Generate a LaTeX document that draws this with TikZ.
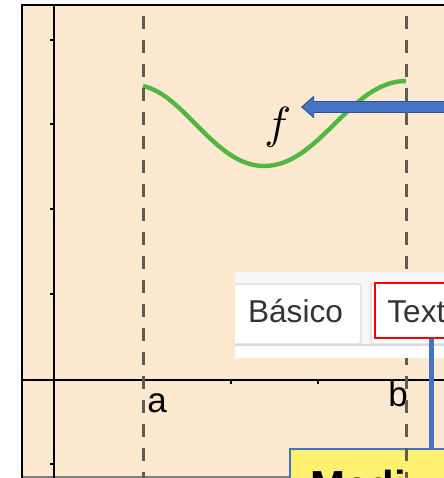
\documentclass[tikz,border=0pt]{standalone}
\usepackage{fontspec}
\newfontfamily\guifont{Liberation Sans}
\usetikzlibrary{arrows.meta}

\definecolor{peach}{RGB}{253,233,207}
\definecolor{curvegreen}{RGB}{84,182,66}
\definecolor{arrowblue}{RGB}{68,114,196}
\definecolor{arrowdark}{RGB}{47,82,143}
\definecolor{guideline}{RGB}{98,92,86}
\definecolor{noteyellow}{RGB}{255,241,112}
\definecolor{tabgray}{RGB}{218,218,218}
\definecolor{panelgray}{RGB}{246,246,246}
\definecolor{guitext}{RGB}{51,51,51}

\begin{document}
\begin{tikzpicture}[x=0.5pt, y=-0.5pt,
  guide/.style={guideline, line width=1.5pt, dash pattern=on 6.5pt off 5.5pt, dash phase=6.5pt},
  fcurve/.style={curvegreen, line width=2.2pt},
  axisline/.style={black, line width=0.9pt},
  tick/.style={black, line width=0.75pt},
  axislabel/.style={inner sep=0pt, font=\guifont\fontsize{17.5}{20}\selectfont},
  guitab/.style={draw=tabgray, fill=white, line width=0.6pt, rounded corners=1.5pt, inner sep=0pt},
  guilabel/.style={inner sep=0pt, text=guitext, font=\guifont\fontsize{15.8}{18}\selectfont},
  redtab/.style={draw=red, fill=white, line width=1pt, inner sep=0pt},
  tabwire/.style={arrowblue, line width=2.5pt},
  notebox/.style={draw=arrowblue, fill=noteyellow, line width=0.7pt, inner sep=0pt},
  notetext/.style={inner sep=0pt, font=\guifont\bfseries\fontsize{21}{24}\selectfont}]
  \useasboundingbox (0,0) rectangle (444,478);
  \clip (0,0) rectangle (444,478);
  % Frame
  \fill[white] (0,0) rectangle (444,478);
  \fill[peach] (22,5) rectangle (460,490);
  \draw[gray, line width=0.6pt] (22,477) -- (460,477);
  \draw[line width=1pt] (22,490) -- (22,5) -- (460,5);
  % Axes
  \draw[axisline] (54,5) -- (54,490);
  \draw[axisline] (22,380) -- (460,380);
  \foreach \y in {40,124,209,294,464}
    \draw[tick] (50,\y) -- (54,\y);
  \foreach \x in {231,318}
    \draw[tick] (\x,380) -- (\x,384);
  \node[axislabel, anchor=base west] (labela) at (147,412) {a};
  \node[axislabel, anchor=base west] (labelb) at (388,406) {b};
  % Function
  \draw[fcurve] (143,86) .. controls (185,95) and (215,166) .. (264,166)
    .. controls (320,166) and (350,81) .. (406,81);
  \node[inner sep=0pt, anchor=base west] (flabel) at (264,138) {\scalebox{2.25}{$f$}};
  % Pointer to f
  \coordinate (arrowtail) at (460,107);
  \coordinate (arrowtip) at (301,107);
  \draw[arrowdark, line width=6pt, -{Triangle[length=6.5pt, width=11pt]}] (arrowtail) -- (arrowtip);
  \draw[arrowblue, line width=4.8pt, shorten >=0.9pt, -{Triangle[length=5.4pt, width=9.2pt]}] (arrowtail) -- (arrowtip);
  % Note box
  \node[notebox, minimum width=85pt, minimum height=20.5pt] (medibox) at (375,469.5) {};
  \node[notetext, anchor=base west] (meditext) at (310,500) {Medi};
  % Bounds a and b
  \draw[guide] (143,5) -- (143,490);
  \draw[guide] (406,5) -- (406,490);
  % Tabs panel
  \begin{scope}
    \clip (235,272) rectangle (460,358);
    \fill[white] (235,272) rectangle (460,358);
    \fill[panelgray] (235,272) rectangle (460,346);
    \draw[tabgray, line width=0.6pt] (235,345) -- (460,345);
    \node[guitab, minimum width=68pt, minimum height=30pt] (basicotab) at (293,314) {};
    \node[guitab, minimum width=45pt, minimum height=30pt] (texttabback) at (416,314) {};
  \end{scope}
  \node[guilabel, anchor=base] (basico) at (295.5,322) {Básico};
  \node[redtab, minimum width=37.5pt, minimum height=27.5pt] (texttab) at (412.5,310.5) {};
  \node[guilabel, anchor=base west] (textlabel) at (387,322) {Text};
  % Link from tab to note
  \coordinate (wirex) at (431,0);
  \draw[tabwire] (wirex |- texttab.south) -- (wirex |- medibox.north);
\end{tikzpicture}
\end{document}
